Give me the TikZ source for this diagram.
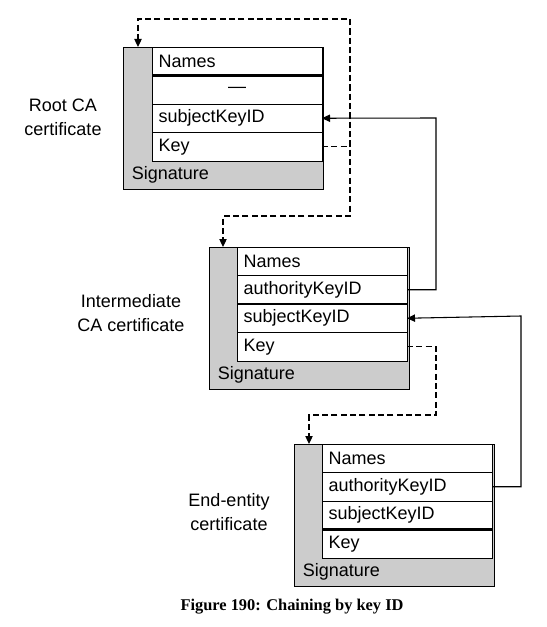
\documentclass[tikz,border=0pt]{standalone}
\usepackage{fontspec}
\setmainfont{Liberation Sans}
\newfontfamily\captionfont{Liberation Serif}
\usetikzlibrary{arrows.meta, positioning}

\begin{document}
\begin{tikzpicture}[
    x=0.75pt, y=-0.75pt,
    certbg/.style={draw,fill=black!20,anchor=north west,minimum width=150pt,minimum height=106.5pt,outer sep=0pt},
    field/.style={draw,fill=white,minimum height=21.375pt,text width=117.5pt,inner xsep=5pt,inner ysep=0pt,align=left,outer sep=0pt,font=\fontsize{13.5}{15}\selectfont},
    sig/.style={anchor=south west,minimum height=21.375pt,inner xsep=6.5pt,inner ysep=0pt,font=\fontsize{13.5}{15}\selectfont},
    certlabel/.style={align=center,font=\fontsize{13.5}{18}\selectfont},
    sep/.style={line width=1.6pt},
    keylink/.style={dashed,dash pattern=on 4.5pt off 2.5pt,line width=0.9pt,-{Triangle[length=6pt,width=5.5pt]}},
    idlink/.style={line width=0.8pt,-{Triangle[length=6pt,width=5.5pt]}}
  ]
    \useasboundingbox (0,0) rectangle (546,627);

    % root CA
    \node[certbg] (rootbg) at (123,47) {};
    \node[field,anchor=north west] (rootnames) at (152,47) {Names};
    \node[field,below=0pt of rootnames,align=center] (rootaki) {---};
    \node[field,below=0pt of rootaki] (rootski) {subjectKeyID};
    \node[field,below=0pt of rootski] (rootkey) {Key};
    \node[sig] (rootsig) at (rootbg.south west) {Signature};
    \draw[sep] (rootnames.south west) -- (rootnames.south east);
    \node[certlabel] (rootlabel) at (63,117) {Root CA\\certificate};

    % intermediate CA
    \node[certbg] (interbg) at (209,247) {};
    \node[field,anchor=north west] (internames) at (237,247) {Names};
    \node[field,below=0pt of internames] (interaki) {authorityKeyID};
    \node[field,below=0pt of interaki] (interski) {subjectKeyID};
    \node[field,below=0pt of interski] (interkey) {Key};
    \node[sig] (intersig) at (interbg.south west) {Signature};
    \draw[sep] (interaki.south west) -- (interaki.south east);
    \node[certlabel] (interlabel) at (131,313) {Intermediate\\CA certificate};

    % end entity
    \node[certbg] (eebg) at (294,444) {};
    \node[field,anchor=north west] (eenames) at (322,444) {Names};
    \node[field,below=0pt of eenames] (eeaki) {authorityKeyID};
    \node[field,below=0pt of eeaki] (eeski) {subjectKeyID};
    \node[field,below=0pt of eeski] (eekey) {Key};
    \node[sig] (eesig) at (eebg.south west) {Signature};
    \draw[sep] (eeski.south west) -- (eeski.south east);
    \node[certlabel] (eelabel) at (229,512) {End-entity\\certificate};

    % key chaining
    \coordinate (rootloop) at (350,19);
    \coordinate (rootdrop) at (350,216);
    \coordinate (interdrop) at (436,415);
    \draw[keylink] (rootkey.east) -| (rootloop) -| ([xshift=11.25pt]rootbg.north west);
    \draw[keylink] (rootloop) -- (rootdrop) -| ([xshift=10.5pt]interbg.north west);
    \draw[keylink] (interkey.east) -| (interdrop) -| ([xshift=11.25pt]eebg.north west);

    % key id chaining
    \coordinate (rootlink) at (436,118);
    \coordinate (interlink) at (521,316);
    \draw[idlink] (interaki.east) -| (rootlink) -- (rootski.east);
    \draw[idlink] (eeaki.east) -| (interlink) -- (interski.east);

    \node[font=\captionfont\bfseries\fontsize{12.3}{14}\selectfont] (caption) at (292,607) {Figure 190: Chaining by key ID};
\end{tikzpicture}
\end{document}
